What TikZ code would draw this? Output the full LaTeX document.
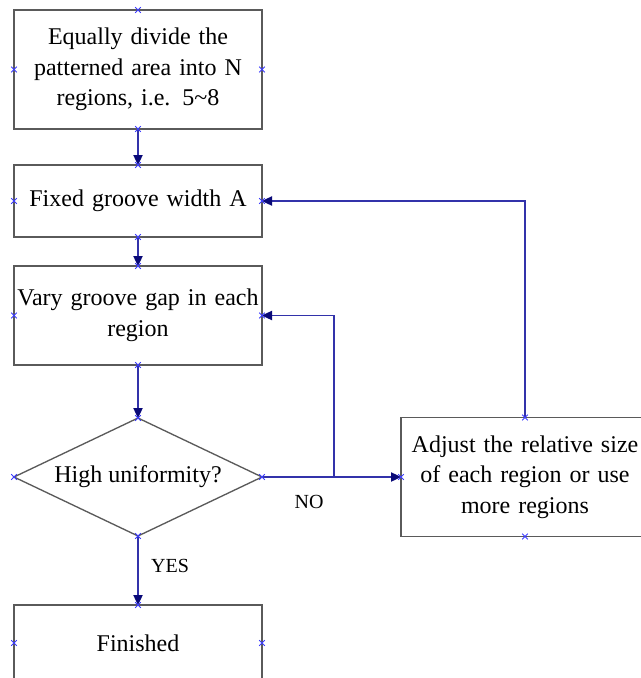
\documentclass[tikz,border=0pt]{standalone}
\usepackage{fontspec}
\setmainfont{Liberation Serif}
\usetikzlibrary{arrows.meta,shapes.geometric}

\definecolor{boxline}{RGB}{90,90,90}
\definecolor{wire}{RGB}{50,50,170}
\definecolor{tipcol}{RGB}{10,10,120}
\definecolor{markcol}{RGB}{60,60,255}

\tikzset{
  stepbox/.style={draw=boxline, line width=1.1pt, rectangle, inner sep=0pt, outer sep=0pt,
    minimum width=186pt, text width=184pt, align=center,
    font=\fontsize{18pt}{23pt}\selectfont},
  decbox/.style={draw=boxline, line width=1pt, diamond, inner sep=0pt, outer sep=0pt,
    minimum width=186pt, minimum height=88.5pt},
  flow/.style={draw=wire, line width=0.9pt,
    -{Triangle[length=7.5pt,width=7pt,color=tipcol]}},
  xmark/.style={draw=markcol, line width=0.7pt},
  tag/.style={font=\fontsize{15pt}{18pt}\selectfont}
}
% small cross drawn on a connection point
\newcommand\cpmark[1]{\draw[xmark] (#1) +(-2.8,-2.8) -- +(2.8,2.8) +(-2.8,2.8) -- +(2.8,-2.8);}

\begin{document}
\begin{tikzpicture}[x=0.75pt,y=-0.75pt]
  \useasboundingbox (0,0) rectangle (641,678);

  % process steps
  \node[stepbox, minimum height=89.25pt] (b1) at (138,69.5)
    {Equally divide the\\patterned area into N\\regions, i.e. 5\textasciitilde 8};
  \node[stepbox, minimum height=54pt] (b2) at (138,201) {Fixed groove width A};
  \node[stepbox, minimum height=74.25pt] (b3) at (138,315.5)
    {Vary groove gap in each\\region};
  \node[decbox, label={[font=\fontsize{18pt}{23pt}\selectfont]center:High uniformity?}]
    (dec) at (138,477) {};
  \node[stepbox, minimum height=89.25pt] (adj) at (525,477)
    {Adjust the relative size\\of each region or use\\more regions};
  \node[stepbox, minimum height=57pt] (fin) at (138,643) {Finished};

  % connectors
  \draw[flow] (b1.south) -- (b2.north);
  \draw[flow] (b2.south) -- (b3.north);
  \draw[flow] (b3.south) -- (dec.north);
  \draw[flow] (dec.east) -- (adj.west);
  \coordinate (br) at (334,477);
  \draw[flow] (br) |- (b3.east);
  \draw[flow] (adj.north) |- (b2.east);
  \draw[flow] (dec.south) -- (fin.north);

  % branch labels
  \node[tag] (no) at (309,502) {NO};
  \node[tag] (yes) at (170,566) {YES};

  % connection points
  \foreach \n in {b1,b2,b3,dec,fin}{
    \cpmark{\n.north}\cpmark{\n.west}\cpmark{\n.east}}
  \foreach \n in {b1,b2,b3,dec}{\cpmark{\n.south}}
  \cpmark{adj.north}\cpmark{adj.south}\cpmark{adj.west}
\end{tikzpicture}
\end{document}
